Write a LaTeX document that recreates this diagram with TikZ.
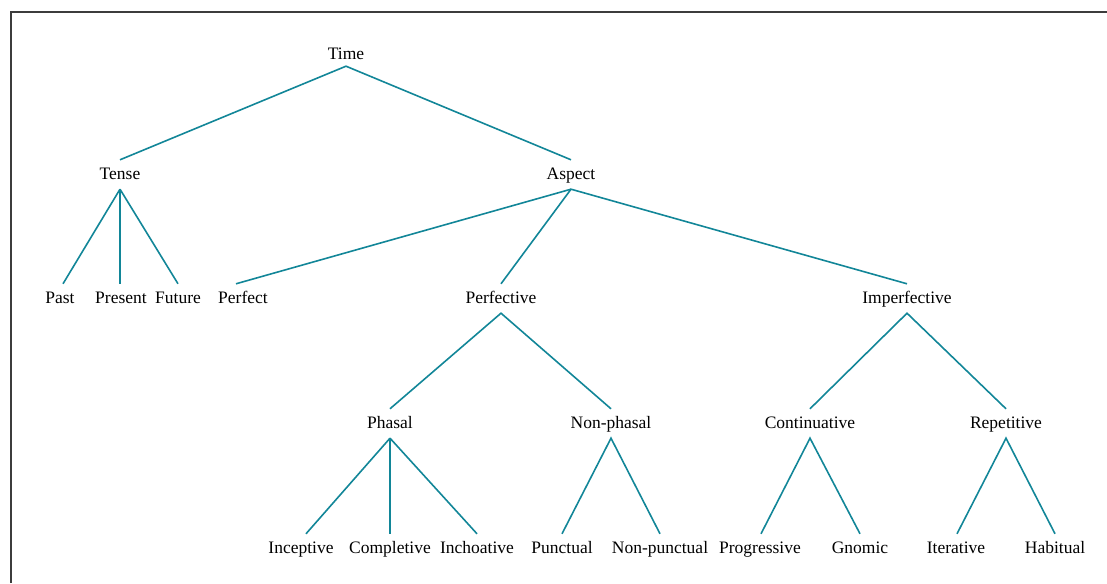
\documentclass[tikz,border=0pt]{standalone}
\usepackage{fontspec}
\setmainfont{Liberation Serif}
\definecolor{teal1}{RGB}{18,134,152}
\definecolor{frame1}{RGB}{60,60,60}
\begin{document}
\begin{tikzpicture}[x=1pt,y=1pt,
  lbl/.style={anchor=base,font=\fontsize{17.5}{20}\selectfont,text height=13pt,text depth=2pt,inner ysep=7pt,inner xsep=1pt},
  edge1/.style={draw=teal1,line width=1.6pt}]
\useasboundingbox (0,0) rectangle (1107,583);
\draw[frame1,line width=1.5pt] (11,0) -- (11,571) -- (1107,571);
% y-up baselines: 523, 403, 279, 154, 29
\node[lbl,inner ysep=4pt] (time) at (346,523) {Time};
\node[lbl] (tense) at (120,403) {Tense};
\node[lbl] (aspect) at (571,403) {Aspect};
\node[lbl] (past) at (60,279) {Past};
\node[lbl] (present) at (121,279) {Present};
\node[lbl] (future) at (178,279) {Future};
\node[lbl] (perfect) at (243,279) {Perfect};
\node[lbl] (perfective) at (501,279) {Perfective};
\node[lbl] (imperfective) at (907,279) {Imperfective};
\node[lbl] (phasal) at (390,154) {Phasal};
\node[lbl] (nonphasal) at (611,154) {Non-phasal};
\node[lbl] (contin) at (810,154) {Continuative};
\node[lbl] (repet) at (1006,154) {Repetitive};
\node[lbl] (incep) at (301,29) {Inceptive};
\node[lbl] (compl) at (390,29) {Completive};
\node[lbl] (incho) at (477,29) {Inchoative};
\node[lbl] (punct) at (562,29) {Punctual};
\node[lbl] (nonpunct) at (660,29) {Non-punctual};
\node[lbl] (progr) at (760,29) {Progressive};
\node[lbl] (gnomic) at (860,29) {Gnomic};
\node[lbl] (iter) at (956,29) {Iterative};
\node[lbl] (habit) at (1055,29) {Habitual};
% edges
\draw[edge1] (tense.north) -- (time.south) -- (aspect.north);
\draw[edge1] (past.north) ++(3,0) -- (tense.south);
\draw[edge1] (present.north) ++(-1,0) -- (tense.south);
\draw[edge1] (future.north) -- (tense.south);
\draw[edge1] (perfect.north) ++(-7,0) -- (aspect.south);
\draw[edge1] (perfective.north) -- (aspect.south) -- (imperfective.north);
\draw[edge1] (phasal.north) -- (perfective.south) -- (nonphasal.north);
\draw[edge1] (contin.north) -- (imperfective.south) -- (repet.north);
\draw[edge1] (incep.north) ++(5,0) -- (phasal.south);
\draw[edge1] (compl.north) -- (phasal.south);
\draw[edge1] (incho.north) -- (phasal.south);
\draw[edge1] (punct.north) -- (nonphasal.south) -- (nonpunct.north);
\draw[edge1] (progr.north) ++(1,0) -- (contin.south) -- (gnomic.north);
\draw[edge1] (iter.north) ++(1,0) -- (repet.south) -- (habit.north);
\end{tikzpicture}
\end{document}
